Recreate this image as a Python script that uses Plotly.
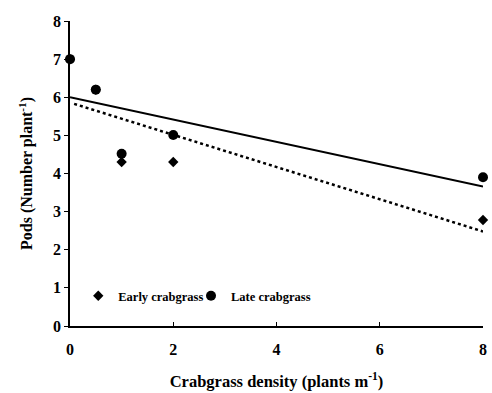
import plotly.graph_objects as go

density = [0, 0.5, 1, 2, 8]
early_pods = [7.0, 6.2, 4.3, 4.3, 2.78]
late_pods = [7.0, 6.2, 4.52, 5.01, 3.9]

fit_x = [0, 8]
early_fit = [5.86, 2.48]
late_fit = [6.0, 3.66]

x_ticks = [0, 2, 4, 6, 8]
y_ticks = [0, 1, 2, 3, 4, 5, 6, 7, 8]

FONT = "Liberation Serif"

fig = go.Figure()
fig.add_trace(go.Scatter(x=fit_x, y=late_fit, mode="lines",
                         line=dict(color="black", width=2), showlegend=False))
fig.add_trace(go.Scatter(x=[0.08, fit_x[1]], y=[early_fit[0] - 0.034, early_fit[1]], mode="lines",
                         line=dict(color="black", width=2.5, dash="dot"), showlegend=False))
fig.add_trace(go.Scatter(x=density, y=early_pods, mode="markers", name="Early crabgrass",
                         marker=dict(symbol="diamond", size=8, color="black"), legend="legend"))
fig.add_trace(go.Scatter(x=density, y=late_pods, mode="markers", name="Late crabgrass",
                         marker=dict(symbol="circle", size=10, color="black"), legend="legend2"))

leg_common = dict(orientation="h", xanchor="left", yanchor="middle",
                  font=dict(family=FONT, size=12.5, weight="bold"),
                  bgcolor="rgba(0,0,0,0)", itemwidth=30)

fig.update_layout(
    width=492, height=393,
    margin=dict(l=70, r=5, t=21, b=66),
    plot_bgcolor="white", paper_bgcolor="white",
    font=dict(family=FONT, color="black", size=16, weight="bold"),
    legend=dict(x=0.02, y=0.098, **leg_common),
    legend2=dict(x=0.293, y=0.098, **leg_common),
    xaxis=dict(range=[0, 8], tickvals=x_ticks, showgrid=False, zeroline=False,
               showline=True, linecolor="black", linewidth=1.5,
               ticks="inside", ticklen=4, tickcolor="black",
               ticklabelstandoff=8,
               title=dict(text="Crabgrass density (plants m<sup>-1</sup>)",
                          font=dict(size=16.5, weight="bold"), standoff=18),
               tickfont=dict(size=16)),
    yaxis=dict(range=[0, 8], tickvals=y_ticks, showgrid=False, zeroline=False,
               showline=True, linecolor="black", linewidth=1.5,
               ticks="outside", ticklen=4, tickcolor="black",
               title=dict(text="Pods (Number plant<sup>-1</sup>)",
                          font=dict(size=16, weight="bold"), standoff=16),
               tickfont=dict(size=16)),
)
for tr in fig.data:
    tr.cliponaxis = False

fig.write_html("out.html")
